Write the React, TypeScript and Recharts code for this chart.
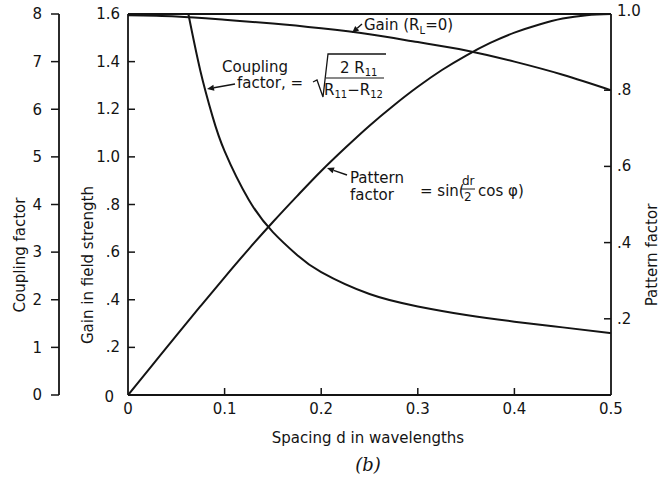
import { ComposedChart, Line, XAxis, YAxis, ReferenceLine } from "recharts";

// spacing d (wavelengths) and the three curves
const patternSpacing = [0, 0.025, 0.05, 0.075, 0.1, 0.125, 0.15, 0.175, 0.2, 0.225, 0.25, 0.275, 0.3, 0.325, 0.35, 0.375, 0.4, 0.425, 0.45, 0.475, 0.5];
const patternValues = [0, 0.078, 0.156, 0.233, 0.309, 0.383, 0.454, 0.522, 0.588, 0.649, 0.707, 0.76, 0.809, 0.853, 0.891, 0.924, 0.951, 0.972, 0.988, 0.997, 1.0];

const gainSpacing = [0, 0.05, 0.1, 0.15, 0.2, 0.25, 0.3, 0.35, 0.4, 0.45, 0.5];
const gainValues = [1.595, 1.59, 1.576, 1.56, 1.54, 1.515, 1.482, 1.447, 1.4, 1.345, 1.28];

const couplingSpacing = [0.0625, 0.075, 0.0875, 0.1, 0.125, 0.15, 0.175, 0.2, 0.25, 0.3, 0.35, 0.4, 0.45, 0.5];
const couplingValues = [8.0, 6.8, 5.85, 5.12, 4.1, 3.42, 2.94, 2.58, 2.12, 1.86, 1.68, 1.54, 1.42, 1.3];

const xTicks = [0, 0.1, 0.2, 0.3, 0.4, 0.5];
const gainTicks = [0, 0.2, 0.4, 0.6, 0.8, 1.0, 1.2, 1.4, 1.6];
const couplingTicks = [0, 1, 2, 3, 4, 5, 6, 7, 8];
const patternTicks = [0.2, 0.4, 0.6, 0.8, 1.0];

const FONT = "'DejaVu Sans', sans-serif";
const INK = "#141414";

const patternData = patternSpacing.map((d, i) => ({ d, v: patternValues[i] }));
const gainData = gainSpacing.map((d, i) => ({ d, v: gainValues[i] }));
const couplingData = couplingSpacing.map((d, i) => ({ d, v: couplingValues[i] }));

const dotLabel = (v: number) => (v === 0 ? "0" : v < 1 ? "." + Math.round(v * 10) : v.toFixed(1));

function GainTick(props: any) {
  const { x, y, payload } = props;
  const v = payload.value;
  return (
    <g>
      {v > 0 && v < 1.6 && <line x1={x + 8} x2={x + 15} y1={y} y2={y} stroke={INK} strokeWidth={1.5} />}
      <text x={v === 0 ? x - 6 : x} y={y} dy={v === 0 ? 7 : 5} textAnchor="end" fill={INK} fontSize={15} fontFamily={FONT}>
        {dotLabel(v)}
      </text>
    </g>
  );
}

function PatternTick(props: any) {
  const { x, y, payload } = props;
  const v = payload.value;
  return (
    <g>
      {v < 1 && <line x1={x - 6} x2={x - 13} y1={y} y2={y} stroke={INK} strokeWidth={1.5} />}
      <text x={x} y={y} dy={v === 1 ? 2 : 5} textAnchor="start" fill={INK} fontSize={15} fontFamily={FONT}>
        {dotLabel(v)}
      </text>
    </g>
  );
}

function SpacingTick(props: any) {
  const { x, y, payload } = props;
  const v = payload.value;
  return (
    <g>
      {v > 0 && v < 0.5 && <line x1={x} x2={x} y1={y - 6} y2={y - 13} stroke={INK} strokeWidth={1.5} />}
      <text x={x} y={y} dy={13} textAnchor="middle" fill={INK} fontSize={15} fontFamily={FONT}>
        {v === 0 ? "0" : v.toFixed(1)}
      </text>
    </g>
  );
}

function Arrow({ x1, y1, x2, y2 }: { x1: number; y1: number; x2: number; y2: number }) {
  const a = Math.atan2(y2 - y1, x2 - x1);
  const L = 7;
  const w = 3;
  const bx = x2 - L * Math.cos(a);
  const by = y2 - L * Math.sin(a);
  const px = -Math.sin(a) * w;
  const py = Math.cos(a) * w;
  return (
    <g>
      <line x1={x1} y1={y1} x2={bx} y2={by} stroke={INK} strokeWidth={1.4} />
      <polygon points={`${x2},${y2} ${bx + px},${by + py} ${bx - px},${by - py}`} fill={INK} />
    </g>
  );
}

function Notes() {
  const t = { fill: INK, fontFamily: FONT, fontSize: 15 };
  return (
    <svg width={663} height={481} style={{ position: "absolute", left: 0, top: 0, pointerEvents: "none" }}>
      {/* axis titles */}
      <text {...t} transform="translate(25,255) rotate(-90)" textAnchor="middle">Coupling factor</text>
      <text {...t} transform="translate(93,265) rotate(-90)" textAnchor="middle">Gain in field strength</text>
      <text {...t} transform="translate(657,255) rotate(-90)" textAnchor="middle">Pattern factor</text>
      <text {...t} x={368} y={443} textAnchor="middle">Spacing d in wavelengths</text>
      <text x={368} y={471} textAnchor="middle" fontFamily="'DejaVu Serif', serif" fontStyle="italic" fontSize={18} fill={INK}>(b)</text>

      {/* gain */}
      <Arrow x1={362} y1={24} x2={352} y2={33} />
      <text {...t} x={364} y={30}>
        Gain (R<tspan fontSize={10} dy={4}>L</tspan><tspan dy={-4}>=0)</tspan>
      </text>

      {/* coupling */}
      <text {...t} x={222} y={72}>Coupling</text>
      <text {...t} x={237} y={88}>factor, =</text>
      <Arrow x1={235} y1={84} x2={207} y2={89} />
      <path d="M313,82 L317,80 L323,97 L328,54 L386,54" fill="none" stroke={INK} strokeWidth={1.3} />
      <line x1={326} x2={384} y1={78} y2={78} stroke={INK} strokeWidth={1.2} />
      <text {...t} x={340} y={73}>
        2 R<tspan fontSize={10} dy={3}>11</tspan>
      </text>
      <text {...t} x={324} y={95}>
        R<tspan fontSize={10} dy={3}>11</tspan><tspan dy={-3}>−R</tspan><tspan fontSize={10} dy={3}>12</tspan>
      </text>

      {/* pattern */}
      <Arrow x1={347} y1={175} x2={327} y2={168} />
      <text {...t} x={350} y={183}>Pattern</text>
      <text {...t} x={350} y={200}>factor</text>
      <text {...t} x={420} y={196}>= sin(</text>
      <text fill={INK} fontFamily={FONT} fontSize={12} x={462} y={185}>dr</text>
      <line x1={461} x2={475} y1={189} y2={189} stroke={INK} strokeWidth={1} />
      <text fill={INK} fontFamily={FONT} fontSize={12} x={464} y={201}>2</text>
      <text {...t} x={478} y={196}>cos φ)</text>
    </svg>
  );
}

export default function App() {
  return (
    <div style={{ position: "absolute", left: 0, top: 0, width: 663, height: 481, background: "#fff" }}>
      <ComposedChart width={663} height={481} margin={{ top: 14, right: 0, bottom: 56, left: 0 }}>
        <XAxis
          dataKey="d"
          type="number"
          domain={[0, 0.5]}
          ticks={xTicks}
          height={30}
          tickSize={0}
          tickMargin={6}
          tick={<SpacingTick />}
          axisLine={{ stroke: INK, strokeWidth: 1.8 }}
          allowDataOverflow
        />
        {/* left axes are stacked by id: "a" sits next to the plot, "b" outside it */}
        <YAxis
          yAxisId="a-gain"
          orientation="left"
          domain={[0, 1.6]}
          ticks={gainTicks}
          width={69}
          tickSize={0}
          tickMargin={8}
          tick={<GainTick />}
          axisLine={{ stroke: INK, strokeWidth: 1.8 }}
        />
        <YAxis
          yAxisId="b-coupling"
          orientation="left"
          domain={[0, 8]}
          ticks={couplingTicks}
          width={59}
          tickSize={8}
          tickMargin={9}
          tick={{ fill: INK, fontSize: 15, fontFamily: FONT }}
          tickLine={{ stroke: INK, strokeWidth: 1.5 }}
          axisLine={{ stroke: INK, strokeWidth: 1.8 }}
        />
        <YAxis
          yAxisId="c-pattern"
          orientation="right"
          domain={[0, 1]}
          ticks={patternTicks}
          width={52}
          tickSize={0}
          tickMargin={6}
          tick={<PatternTick />}
          axisLine={{ stroke: INK, strokeWidth: 1.8 }}
        />
        <ReferenceLine yAxisId="a-gain" y={1.6} stroke={INK} strokeWidth={1.8} />
        <Line data={patternData} dataKey="v" yAxisId="c-pattern" type="monotone" stroke={INK} strokeWidth={2} dot={false} isAnimationActive={false} />
        <Line data={gainData} dataKey="v" yAxisId="a-gain" type="natural" stroke={INK} strokeWidth={2} dot={false} isAnimationActive={false} />
        <Line data={couplingData} dataKey="v" yAxisId="b-coupling" type="natural" stroke={INK} strokeWidth={2} dot={false} isAnimationActive={false} />
      </ComposedChart>
      <Notes />
    </div>
  );
}
